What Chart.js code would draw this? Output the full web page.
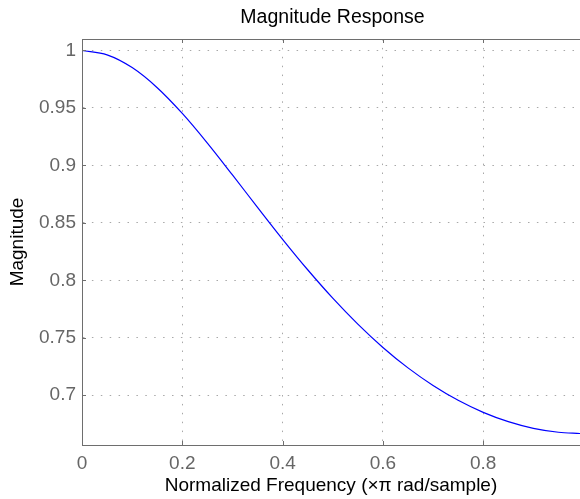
<!DOCTYPE html>
<html>
<head>
<meta charset="utf-8">
<script src="https://cdn.jsdelivr.net/npm/chart.js@4/dist/chart.umd.min.js"></script>
<style>
  body { margin: 0; background: #fff; }
  #wrap { width: 580px; height: 499px; }
</style>
</head>
<body>
<div id="wrap"><canvas id="magChart"></canvas></div>
<script>
// normalized frequency (x pi rad/sample) and magnitude
const freq = [0, 0.05, 0.1, 0.15, 0.2, 0.25, 0.3, 0.35, 0.4, 0.45, 0.5,
  0.55, 0.6, 0.65, 0.7, 0.75, 0.8, 0.85, 0.9, 0.95, 0.993];
const magnitude = [1.0, 0.9962, 0.9851, 0.9676, 0.9452, 0.9194, 0.8917, 0.8635, 0.8357, 0.8092, 0.7845,
  0.7619, 0.7416, 0.7238, 0.7085, 0.6956, 0.6851, 0.677, 0.6712, 0.6678, 0.6667];
const xTicks = [0, 0.2, 0.4, 0.6, 0.8];
const yTicks = [0.7, 0.75, 0.8, 0.85, 0.9, 0.95, 1];
const chartTitle = "Magnitude Response";

const axisGrey = "#6e6e6e";
const fontFam = "'Liberation Sans', Arial, sans-serif";

// title centred over the axes, top frame line and small inward tick marks
const frameTicks = {
  id: "frameTicks",
  afterDraw(chart) {
    const { ctx, chartArea: { top, bottom, left, right }, scales: { x, y } } = chart;
    ctx.save();
    ctx.fillStyle = "#000";
    ctx.font = "19.5px " + fontFam;
    ctx.textAlign = "center";
    ctx.textBaseline = "middle";
    ctx.fillText(chartTitle, (left + 583) / 2, 18);

    ctx.strokeStyle = axisGrey;
    ctx.lineWidth = 1;
    ctx.beginPath();
    ctx.moveTo(left, top + 0.5);
    ctx.lineTo(right, top + 0.5);
    xTicks.forEach(v => {
      const px = Math.round(x.getPixelForValue(v)) + 0.5;
      ctx.moveTo(px, bottom);
      ctx.lineTo(px, bottom - 4);
      ctx.moveTo(px, top);
      ctx.lineTo(px, top + 4);
    });
    yTicks.forEach(v => {
      const py = Math.round(y.getPixelForValue(v)) + 0.5;
      ctx.moveTo(left, py);
      ctx.lineTo(left + 4, py);
    });
    ctx.stroke();
    ctx.restore();
  }
};

const ctx = document.getElementById("magChart").getContext("2d");
new Chart(ctx, {
  type: "line",
  data: {
    datasets: [{
      data: freq.map((f, i) => ({ x: f, y: magnitude[i] })),
      borderColor: "#0000ff",
      borderWidth: 1.2,
      pointRadius: 0,
      cubicInterpolationMode: "monotone",
      fill: false
    }]
  },
  options: {
    responsive: true,
    maintainAspectRatio: false,
    animation: false,
    layout: { padding: { top: 39, left: 0, right: 0, bottom: 0 } },
    plugins: {
      legend: { display: false },
      tooltip: { enabled: false },
      title: { display: false }
    },
    scales: {
      x: {
        type: "linear",
        min: 0,
        max: 0.993,
        afterBuildTicks: s => { s.ticks = xTicks.map(v => ({ value: v })); },
        afterFit: s => { s.height = 54; },
        grid: { color: "#a8a8a8", drawTicks: false },
        border: { display: true, color: axisGrey, width: 1, dash: [1.5, 7.4] },
        ticks: {
          color: "#666",
          padding: 7,
          maxRotation: 0,
          font: { family: fontFam, size: 19 },
          callback: v => String(+v.toFixed(2))
        },
        title: {
          display: true,
          text: "Normalized Frequency (×π rad/sample)",
          color: "#000",
          font: { family: fontFam, size: 19 },
          padding: { top: 0, bottom: 1.5 }
        }
      },
      y: {
        min: 0.6567,
        max: 1.01,
        afterBuildTicks: s => { s.ticks = yTicks.map(v => ({ value: v })); },
        afterFit: s => { s.width = 82; },
        grid: { color: "#a8a8a8", drawTicks: false },
        border: { display: true, color: axisGrey, width: 1, dash: [1.5, 7.4] },
        ticks: {
          color: "#666",
          padding: 6,
          font: { family: fontFam, size: 19 },
          callback: v => String(+v.toFixed(2))
        },
        title: {
          display: true,
          text: "Magnitude",
          color: "#000",
          font: { family: fontFam, size: 19 },
          padding: { top: 6.5, bottom: 0 }
        }
      }
    }
  },
  plugins: [frameTicks]
});
</script>
</body>
</html>
